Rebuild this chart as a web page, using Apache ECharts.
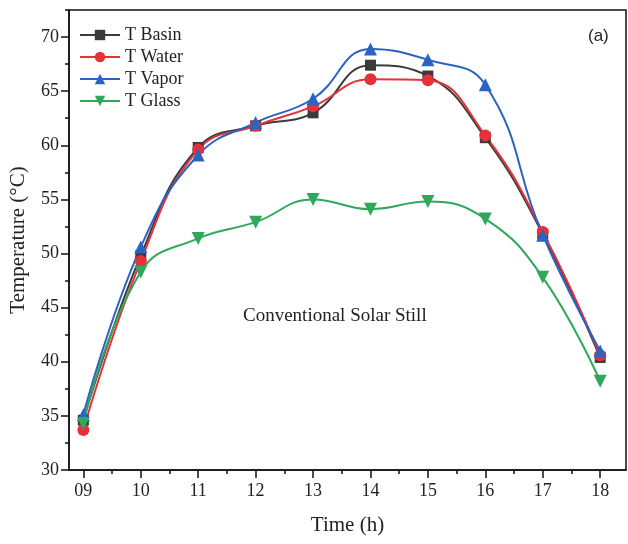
<!DOCTYPE html>
<html><head><meta charset="utf-8">
<script src="https://cdn.jsdelivr.net/npm/echarts@6/dist/echarts.min.js"></script>
<style>html,body{margin:0;padding:0;background:#fff}#c{width:628px;height:544px}</style>
</head><body><div id="c"></div>
<script>
const hours = [9, 10, 11, 12, 13, 14, 15, 16, 17, 18];
const xTickLabels = ['09','10','11','12','13','14','15','16','17','18'];
const yTickValues = [30, 35, 40, 45, 50, 55, 60, 65, 70];
const tBasin = [34.6, 49.8, 59.8, 61.8, 63.0, 67.4, 66.4, 60.7, 51.8, 40.4];
const tWater = [33.7, 49.3, 59.6, 61.8, 63.6, 66.1, 66.0, 60.9, 52.0, 40.6];
const tVapor = [35.1, 50.6, 59.1, 62.1, 64.3, 68.9, 67.9, 65.6, 51.7, 41.0];
const tGlass = [34.3, 48.3, 51.4, 52.9, 55.0, 54.1, 54.8, 53.2, 47.8, 38.2];

const seriesDefs = [
  {name: 'T Basin', data: tBasin, color: '#3b3b3b', symbol: 'rect', size: 11},
  {name: 'T Water', data: tWater, color: '#e8303a', symbol: 'circle', size: 12},
  {name: 'T Vapor', data: tVapor, color: '#2b63c2', symbol: 'triangle', size: 13},
  {name: 'T Glass', data: tGlass, color: '#2fa85a', symbol: 'path://M0,0 L10,0 L5,9 Z', size: 13}
];

const serif = 'Liberation Serif';
const minorX = []; for (let h = 9; h <= 18; h += 0.5) minorX.push(h);
const minorY = []; for (let v = 30; v <= 72.5; v += 2.5) minorY.push(v);

const chart = echarts.init(document.getElementById('c'), null, {renderer: 'canvas'});
chart.setOption({
  animation: false,
  backgroundColor: '#fff',
  grid: {left: 69, top: 10, right: 2, bottom: 74, show: true, borderColor: '#111', borderWidth: 1.5},
  legend: {
    orient: 'vertical', left: 74, top: 21, itemGap: 4, itemWidth: 40, itemHeight: 13,
    textStyle: {fontFamily: serif, fontSize: 18, color: '#222'},
    data: seriesDefs.map(s => s.name)
  },
  xAxis: [{
    type: 'value', min: 8.75, max: 18.45,
    axisLine: {lineStyle: {color: '#111', width: 1.5}},
    axisTick: {show: true, customValues: hours, length: 8, lineStyle: {color: '#111', width: 1.5}},
    axisLabel: {customValues: hours, formatter: v => xTickLabels[hours.indexOf(v)] || '', fontFamily: serif, fontSize: 18, color: '#222', margin: 12},
    splitLine: {show: false},
    name: 'Time (h)', nameLocation: 'middle', nameGap: 45,
    nameTextStyle: {fontFamily: serif, fontSize: 21, color: '#222'}
  }, {
    type: 'value', min: 8.75, max: 18.45, position: 'bottom',
    axisLine: {show: false},
    axisTick: {show: true, customValues: minorX, length: 4, lineStyle: {color: '#111', width: 1.5}},
    axisLabel: {show: false}, splitLine: {show: false}
  }],
  yAxis: [{
    type: 'value', min: 30, max: 72.5,
    axisLine: {show: true, lineStyle: {color: '#111', width: 1.5}},
    axisTick: {show: true, customValues: yTickValues, length: 8, lineStyle: {color: '#111', width: 1.5}},
    axisLabel: {customValues: yTickValues, fontFamily: serif, fontSize: 18, color: '#222', margin: 10},
    splitLine: {show: false},
    name: 'Temperature (°C)', nameLocation: 'middle', nameGap: 40, nameRotate: 90,
    nameTextStyle: {fontFamily: serif, fontSize: 21, color: '#222'}
  }, {
    type: 'value', min: 30, max: 72.5, position: 'left',
    axisLine: {show: false},
    axisTick: {show: true, customValues: minorY, length: 4, lineStyle: {color: '#111', width: 1.5}},
    axisLabel: {show: false}, splitLine: {show: false}
  }],
  graphic: [
    {type: 'text', left: 588, top: 28, style: {text: '(a)', font: '17px "Liberation Sans"', fill: '#222'}},
    {type: 'text', left: 243, top: 307, style: {text: 'Conventional Solar Still', font: '19px "Liberation Serif"', fill: '#222'}}
  ],
  series: seriesDefs.map(s => ({
    name: s.name, type: 'line', smooth: 0.45,
    data: s.data.map((v, i) => [hours[i], v]),
    symbol: s.symbol, symbolSize: s.size,
    lineStyle: {color: s.color, width: 2},
    itemStyle: {color: s.color},
    clip: false
  }))
});
</script></body></html>
